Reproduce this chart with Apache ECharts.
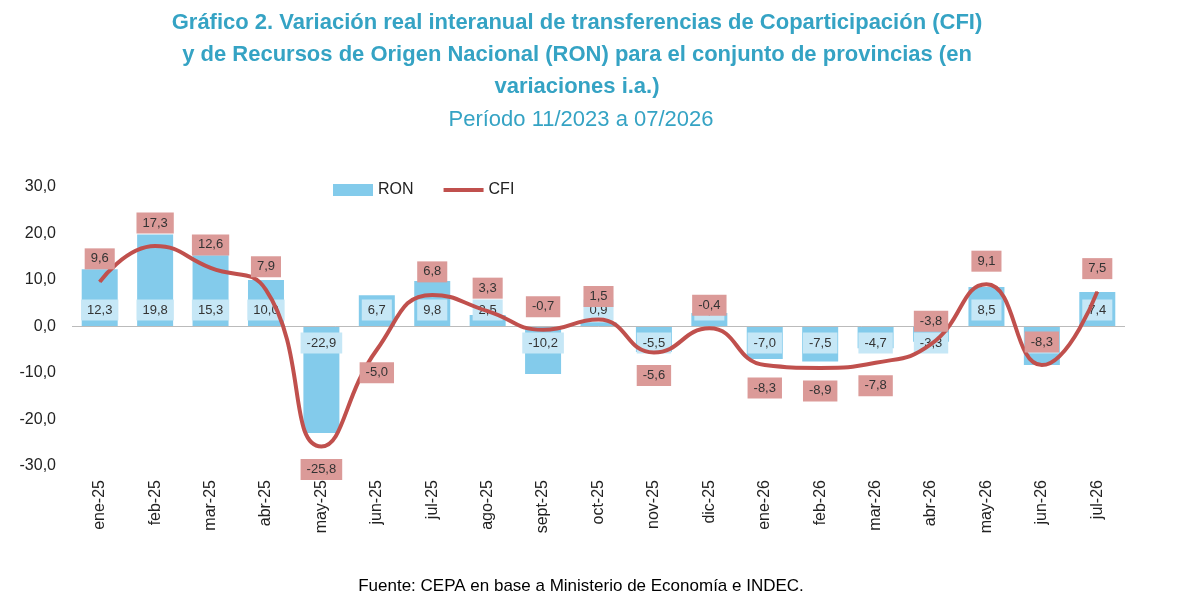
<!DOCTYPE html>
<html lang="es">
<head>
<meta charset="UTF-8">
<script src="https://cdn.jsdelivr.net/npm/echarts@6/dist/echarts.min.js"></script>
<style>
  body { margin: 0; background: #fff; }
  #chart { width: 1200px; height: 612px; }
</style>
</head>
<body>
<div id="chart"></div>
<script>
// datos
const months = ['ene-25','feb-25','mar-25','abr-25','may-25','jun-25','jul-25','ago-25','sept-25','oct-25',
  'nov-25','dic-25','ene-26','feb-26','mar-26','abr-26','may-26','jun-26','jul-26'];
const ron = [12.3, 19.8, 15.3, 10.0, -22.9, 6.7, 9.8, 2.5, -10.2, 0.9, -5.5, 2.9, -7.0, -7.5, -4.7, -3.3, 8.5, -8.3, 7.4];
const cfi = [9.6, 17.3, 12.6, 7.9, -25.8, -5.0, 6.8, 3.3, -0.7, 1.5, -5.6, -0.4, -8.3, -8.9, -7.8, -3.8, 9.1, -8.3, 7.5];
// CFI label above (true) or below (false)
const cfiAbove = [true,true,true,true,false,false,true,true,true,true,false,true,false,false,false,true,true,true,true];

const fmt = v => v.toFixed(1).replace('.', ',');
const chart = echarts.init(document.getElementById('chart'));

chart.setOption({
  animation: false,
  title: [{
    text: 'Gráfico 2. Variación real interanual de transferencias de Coparticipación (CFI)\ny de Recursos de Origen Nacional (RON) para el conjunto de provincias (en\nvariaciones i.a.)',
    left: 572, textAlign: 'center', top: 2,
    textStyle: { color: '#35a3c4', fontSize: 22, fontWeight: 'bold', lineHeight: 32, fontFamily: 'Liberation Sans', align: 'center' }
  }, {
    text: 'Período 11/2023 a 07/2026',
    left: 576, textAlign: 'center', top: 104,
    textStyle: { color: '#35a3c4', fontSize: 22, fontWeight: 'normal', fontFamily: 'Liberation Sans' }
  }, {
    text: 'Fuente: CEPA en base a Ministerio de Economía e INDEC.',
    left: 576, textAlign: 'center', top: 573,
    textStyle: { color: '#000', fontSize: 17, fontWeight: 'normal', fontFamily: 'Liberation Sans' }
  }],
  legend: {
    left: 328, top: 177, itemGap: 30, itemWidth: 40, itemHeight: 12,
    textStyle: { fontSize: 16, color: '#222', fontFamily: 'Liberation Sans' },
    data: [{ name: 'RON', icon: 'rect' }, { name: 'CFI', icon: 'path://M0,0 L40,0 L40,4 L0,4 Z' }]
  },
  grid: { left: 72, right: 75, top: 187, bottom: 146 },
  xAxis: {
    type: 'category', data: months,
    axisLine: { show: false, onZero: false }, axisTick: { show: false },
    axisLabel: { rotate: 90, fontSize: 16, color: '#222', margin: 14, fontFamily: 'Liberation Sans' }
  },
  yAxis: {
    type: 'value', min: -30, max: 30, interval: 10,
    splitLine: { show: false },
    axisLabel: { fontSize: 16, color: '#222', formatter: fmt, margin: 16, fontFamily: 'Liberation Sans' }
  },
  series: [{
    name: 'RON', type: 'bar', barWidth: 36,
    itemStyle: { color: '#83cbeb' },
    data: ron.map(v => ({
      value: v,
      label: { position: v >= 0 ? 'insideBottom' : 'insideTop', distance: 6 }
    })),
    label: {
      show: true, formatter: p => fmt(p.value), fontSize: 13, color: '#333',
      backgroundColor: '#c6e7f6', padding: [4, 6], fontFamily: 'Liberation Sans'
    },
    markLine: {
      silent: true, symbol: 'none', label: { show: false },
      lineStyle: { color: '#bbb', type: 'solid', width: 1 },
      data: [{ yAxis: 0 }]
    }
  }, {
    name: 'CFI', type: 'line', smooth: true, symbol: 'circle', symbolSize: 1, showSymbol: true,
    lineStyle: { color: '#c0504d', width: 4 },
    itemStyle: { color: '#c0504d' },
    data: cfi.map((v, i) => ({
      value: v,
      label: { position: cfiAbove[i] ? 'top' : 'bottom', distance: 12 }
    })),
    label: {
      show: true, formatter: p => fmt(p.value), fontSize: 13, color: '#333',
      backgroundColor: '#db9a98', padding: [4, 6], fontFamily: 'Liberation Sans'
    },
    labelLayout: { hideOverlap: false },
    z: 5
  }]
});
</script>
</body>
</html>
